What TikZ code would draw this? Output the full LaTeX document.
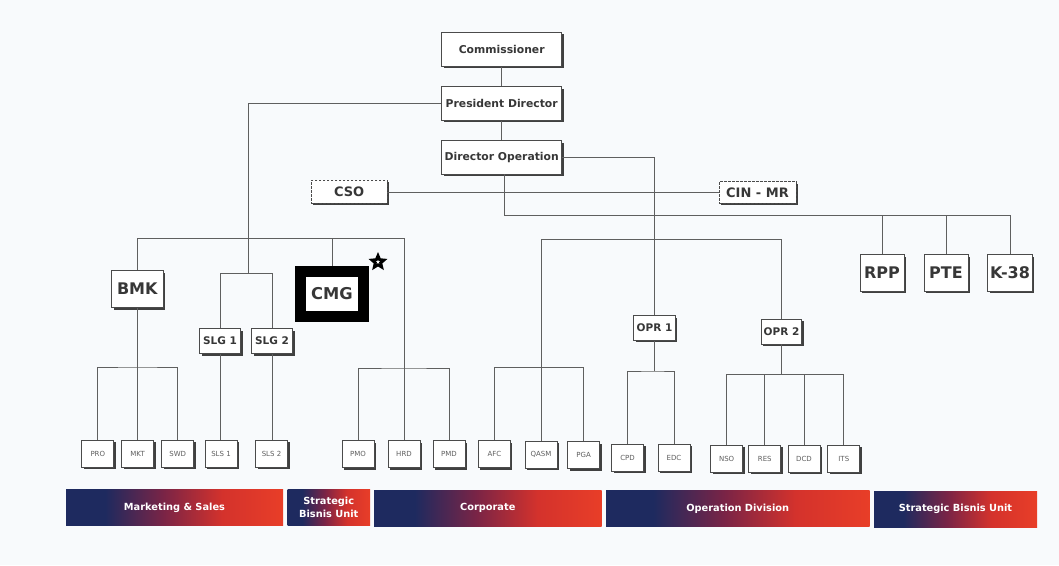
\documentclass[tikz,border=0pt]{standalone}
\usepackage{fontspec}
\setmainfont{DejaVu Sans}
\usetikzlibrary{shadows,shapes.geometric,calc}
\definecolor{bg}{RGB}{248,250,252}
\definecolor{txt}{RGB}{55,55,55}
\definecolor{edge}{RGB}{75,75,75}
\definecolor{wire}{RGB}{95,95,95}
\definecolor{leaftxt}{RGB}{95,95,95}
\definecolor{navyb}{RGB}{30,42,95}
\definecolor{midb}{RGB}{122,36,70}
\definecolor{redb}{RGB}{212,50,44}
\definecolor{redc}{RGB}{232,62,40}
\pgfdeclarehorizontalshading{banshade}{100bp}{color(0bp)=(navyb); color(25bp)=(navyb); color(34bp)=(navyb); color(47.5bp)=(midb); color(61bp)=(redb); color(75bp)=(redc); color(100bp)=(redc)}
\tikzset{
  shad/.style={drop shadow={shadow xshift=2pt, shadow yshift=-2pt, fill=black!75, opacity=1}},
  unit/.style={draw=edge, line width=0.8pt, fill=white, inner sep=0pt, text=txt, shad},
  sz/.style 2 args={minimum width=#1pt, minimum height=#2pt},
  topunit/.style={unit, font=\fontsize{10.8}{12}\selectfont\bfseries},
  bigunit/.style={unit, font=\fontsize{16}{18}\selectfont\bfseries},
  midunit/.style={unit, font=\fontsize{10.5}{12}\selectfont\bfseries},
  dashunit/.style={unit, dash pattern=on 2.5pt off 1.5pt, font=\fontsize{13}{14}\selectfont\bfseries},
  leaf/.style={draw=edge, line width=0.7pt, fill=white, inner sep=0pt, text=leaftxt, shad,
    minimum width=32pt, minimum height=27pt, font=\fontsize{7}{8}\selectfont},
  wire/.style={draw=wire, line width=0.8pt},
  bantext/.style={text=white, inner sep=0pt, align=center, font=\fontsize{9.8}{12.5}\selectfont\bfseries},
}
\newcommand\gradbar[6]{%
  \shade[shading=banshade, shading angle=0] (#2,#3) rectangle (#4,#5);
  \node[bantext] (#1) at ({(#2+#4)/2},{(#3+#5)/2}) {#6};
}
\begin{document}
\begin{tikzpicture}[x=1pt,y=-1pt]
\useasboundingbox (0,0) rectangle (1059,565);
\fill[bg] (0,0) rectangle (1059,565);

% top chain
\node[topunit, sz={120}{34}] (comm) at (501.7,49.3) {Commissioner};
\node[topunit, sz={120}{33.6}] (pres) at (501.7,103.5) {President Director};
\node[topunit, sz={120}{33.3}] (dirop) at (501.7,157.3) {Director Operation};
\node[dashunit, sz={75.5}{23}] (cso) at (349.2,191.5) {CSO};
\node[dashunit, sz={77}{21.5}] (cin) at (757.5,192.5) {CIN - MR};

% second level
\node[bigunit, sz={51.5}{37}] (bmk) at (137.3,289) {BMK};
\node[draw=black, line width=11pt, fill=white, inner sep=0pt, text=txt,
      font=\fontsize{16.3}{18}\selectfont\bfseries, sz={63}{45}] (cmg) at (332,294) {CMG};
\node[star, star points=5, star point ratio=2.2, draw=black, fill=white, line width=2.9pt,
      minimum size=12.5pt, inner sep=0pt] (star) at (378,262) {};
\node[midunit, sz={41}{25}] (slg1) at (220,341) {SLG 1};
\node[midunit, sz={41}{25}] (slg2) at (272,341) {SLG 2};
\node[midunit, sz={41.5}{24.5}] (opr1) at (654.5,328) {OPR 1};
\node[midunit, sz={40.5}{25}] (opr2) at (781.5,331.5) {OPR 2};
\node[bigunit, sz={44}{36.5}] (rpp) at (882,273) {RPP};
\node[bigunit, sz={44}{36.5}] (pte) at (946,273) {PTE};
\node[bigunit, sz={44.7}{36.5}] (k38) at (1010,273) {K-38};

% leaves
\node[leaf] (pro) at (97.8,453.5) {PRO};
\node[leaf] (mkt) at (137.6,453.5) {MKT};
\node[leaf] (swd) at (177.7,453.5) {SWD};
\node[leaf] (sls1) at (221,453.5) {SLS 1};
\node[leaf] (sls2) at (271.5,453.5) {SLS 2};
\node[leaf] (pmo) at (358,454) {PMO};
\node[leaf] (hrd) at (404,454) {HRD};
\node[leaf] (pmd) at (449,454) {PMD};
\node[leaf] (afc) at (494.4,454) {AFC};
\node[leaf] (qasm) at (541,454.5) {QASM};
\node[leaf] (pga) at (583.7,455) {PGA};
\node[leaf] (cpd) at (627.5,457.8) {CPD};
\node[leaf] (edc) at (674,457.8) {EDC};
\node[leaf] (nso) at (726.6,458.5) {NSO};
\node[leaf] (res) at (764.8,458.5) {RES};
\node[leaf] (dcd) at (804,458.5) {DCD};
\node[leaf] (its) at (843.8,458.5) {ITS};

% helper levels
\coordinate (slgj) at (248,273.3);
\coordinate (yrow) at (0,238);
\coordinate (ycorp) at (0,239.3);
\coordinate (yrpp) at (0,215);
\coordinate (yb) at (0,367);
\coordinate (yp) at (0,368);
\coordinate (ya) at (0,367.5);
\coordinate (yo1) at (0,371);
\coordinate (yo2) at (0,374.3);

% connectors
\draw[wire] (comm.south) -- (pres.north);
\draw[wire] (pres.south) -- (dirop.north);
\draw[wire] (pres.west) -| (slgj);
\draw[wire] (slg1.north) |- (slgj) -| (slg2.north);
\draw[wire] (slg1.south) -- (slg1.south |- sls1.north);
\draw[wire] (slg2.south) -- (slg2.south |- sls2.north);
\draw[wire] (bmk.north) |- (hrd.north |- yrow) -- (hrd.north);
\draw[wire] (cmg.north) -- (cmg.north |- yrow);
\draw[wire] (pmo.north) |- (hrd.north |- yp) -| (pmd.north);
\draw[wire] (bmk.south) -- (bmk.south |- mkt.north);
\draw[wire] (pro.north) |- (mkt.north |- yb) -| (swd.north);
\draw[wire] (cso.east |- cin.west) -- (cin.west);
\draw[wire] (dirop.east) -| (opr1.north);
\draw[wire] ([xshift=3pt]dirop.south) |- (k38.north |- yrpp) -- (k38.north);
\draw[wire] (rpp.north) -- (rpp.north |- yrpp);
\draw[wire] (pte.north) -- (pte.north |- yrpp);
\draw[wire] (qasm.north) |- (opr2.north |- ycorp) -- (opr2.north);
\draw[wire] (afc.north) |- (qasm.north |- ya) -| (pga.north);
\draw[wire] (opr1.south) -- (opr1.south |- yo1);
\draw[wire] (cpd.north) |- (opr1.south |- yo1) -| (edc.north);
\draw[wire] (opr2.south) -- (opr2.south |- yo2);
\draw[wire] (nso.north) |- (opr2.south |- yo2) -| (its.north);
\draw[wire] (res.north) -- (res.north |- yo2);
\draw[wire] (dcd.north) -- (dcd.north |- yo2);

% banners
\gradbar{bms}{66}{489.5}{283}{525.5}{Marketing \& Sales}
\gradbar{bsbu}{287.5}{489.5}{370}{525.5}{Strategic\\Bisnis Unit}
\gradbar{bcorp}{374}{490}{601.5}{526}{Corporate}
\gradbar{bod}{606}{490.5}{869.5}{526.5}{Operation Division}
\gradbar{bsbu2}{874}{491}{1037}{527}{Strategic Bisnis Unit}
\end{tikzpicture}
\end{document}
